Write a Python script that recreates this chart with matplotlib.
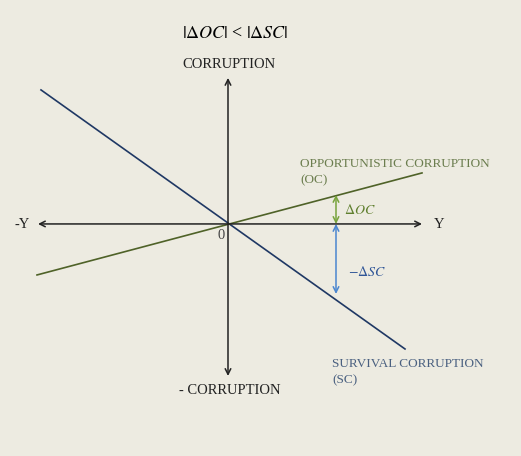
import matplotlib.pyplot as plt

# axes in pixel-like units, origin where the two axes cross
x_axis_x = [-190, 194]
y_axis_y = [146, -152]
sc_x = [-187, 177]
sc_y = [134, -125]
oc_x = [-191, 194]
oc_y = [-51, 51]
delta_x = 108
doc_y = [29, 0]
dsc_y = [0, -70]

bg = '#edebe1'
plt.rcParams['font.family'] = ['Liberation Serif', 'DejaVu Serif']
plt.rcParams['mathtext.fontset'] = 'stix'

fig = plt.figure(figsize=(5.21, 4.561), dpi=100, facecolor=bg)
ax = fig.add_axes([0, 0, 1, 1])
ax.set_facecolor(bg)
ax.set_xlim(-228, 293)
ax.set_ylim(-232, 224)
ax.axis('off')

# lines
ax.plot(sc_x, sc_y, color='#1f3864', lw=1.2)
ax.plot(oc_x, oc_y, color='#4f6228', lw=1.2)

# axes arrows
ax.annotate('', xy=(x_axis_x[0], 0), xytext=(x_axis_x[1], 0),
            arrowprops=dict(arrowstyle='<->', color='#222222', lw=1.1, shrinkA=0, shrinkB=0))
ax.annotate('', xy=(0, y_axis_y[0]), xytext=(0, y_axis_y[1]),
            arrowprops=dict(arrowstyle='<->', color='#222222', lw=1.1, shrinkA=0, shrinkB=0))

# deltas
ax.annotate('', xy=(delta_x, doc_y[0]), xytext=(delta_x, doc_y[1]),
            arrowprops=dict(arrowstyle='<->', color='#77a33c', lw=1.1, shrinkA=0, shrinkB=0))
ax.annotate('', xy=(delta_x, dsc_y[0]), xytext=(delta_x, dsc_y[1]),
            arrowprops=dict(arrowstyle='<->', color='#4a86d0', lw=1.1, shrinkA=0, shrinkB=0))

# texts
ax.text(7, 191, r'$|\Delta OC|$ < $|\Delta SC|$', ha='center', va='center', fontsize=13, color='black')
ax.text(1, 160, 'CORRUPTION', ha='center', va='center', fontsize=10.5, color='#222222')
ax.text(2, -166, '- CORRUPTION', ha='center', va='center', fontsize=10.5, color='#222222')
ax.text(-198, 0, '-Y', ha='right', va='center', fontsize=10.5, color='#222222')
ax.text(206, 0, 'Y', ha='left', va='center', fontsize=10.5, color='#222222')
ax.text(-7, -11, '0', ha='center', va='center', fontsize=10.5, color='#444444')
ax.text(72, 52, 'OPPORTUNISTIC CORRUPTION\n(OC)', ha='left', va='center', fontsize=9.5,
        color='#6b7d4e', linespacing=1.55)
ax.text(116, 14, r'$\Delta OC$', ha='left', va='center', fontsize=10, color='#5f7f2e')
ax.text(120, -48, r'$-\Delta SC$', ha='left', va='center', fontsize=10, color='#2f5597')
ax.text(104, -148, 'SURVIVAL CORRUPTION\n(SC)', ha='left', va='center', fontsize=9.5,
        color='#4a6080', linespacing=1.55)

fig.savefig('out.png', dpi=100, facecolor=bg)
